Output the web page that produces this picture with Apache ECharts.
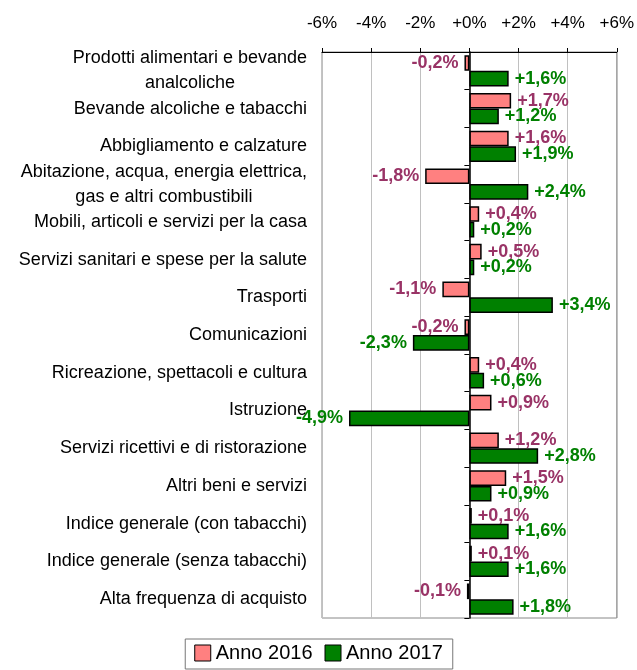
<!DOCTYPE html>
<html>
<head>
<meta charset="utf-8">
<script src="https://cdn.jsdelivr.net/npm/echarts@6/dist/echarts.min.js"></script>
<style>
  html, body { margin: 0; padding: 0; background: #fff; }
  #main { width: 637px; height: 670px; }
</style>
</head>
<body>
<div id="main"></div>
<script>
const categories = [
  'Prodotti alimentari e bevande\nanalcoliche',
  'Bevande alcoliche e tabacchi',
  'Abbigliamento e calzature',
  'Abitazione, acqua, energia elettrica,\ngas e altri combustibili',
  'Mobili, articoli e servizi per la casa',
  'Servizi sanitari e spese per la salute',
  'Trasporti',
  'Comunicazioni',
  'Ricreazione, spettacoli e cultura',
  'Istruzione',
  'Servizi ricettivi e di ristorazione',
  'Altri beni e servizi',
  'Indice generale (con tabacchi)',
  'Indice generale (senza tabacchi)',
  'Alta frequenza di acquisto'
];
const anno2016 = [-0.2, 1.7, 1.6, -1.8, 0.4, 0.5, -1.1, -0.2, 0.4, 0.9, 1.2, 1.5, 0.1, 0.1, -0.1];
const anno2017 = [1.6, 1.2, 1.9, 2.4, 0.2, 0.2, 3.4, -2.3, 0.6, -4.9, 2.8, 0.9, 1.6, 1.6, 1.8];

let myChart = echarts.init(document.getElementById('main'));

function pct(v) {
  let s = Math.abs(v).toFixed(1).replace('.', ',');
  return (v < 0 ? '-' : '+') + s + '%';
}

function withLabels(values) {
  return values.map(function (v) {
    return { value: v, label: { position: v < 0 ? 'left' : 'right' } };
  });
}

function catLabel(v) {
  // multi-line labels are centred line by line
  if (v.indexOf('\n') < 0) return v;
  return v.split('\n').map(function (l) { return '{c|' + l + '}'; }).join('\n');
}

let option = {
  animation: false,
  textStyle: { fontFamily: 'Liberation Sans, Arial, sans-serif' },
  grid: {
    left: 322,
    right: 19,
    top: 52,
    bottom: 52,
    show: true,
    borderColor: '#888',
    borderWidth: 1
  },
  legend: {
    top: 639,
    left: 'center',
    padding: [4, 10, 6, 9],
    borderColor: '#777',
    borderWidth: 1,
    itemWidth: 16,
    itemHeight: 16,
    itemGap: 12,
    icon: 'rect',
    textStyle: { fontSize: 20, color: '#000' },
    itemStyle: { borderColor: '#000', borderWidth: 1 },
    data: ['Anno 2016', 'Anno 2017']
  },
  xAxis: {
    type: 'value',
    position: 'top',
    min: -6,
    max: 6,
    interval: 2,
    axisLine: { show: true, onZero: false, lineStyle: { color: '#000', width: 1 } },
    axisTick: { show: true, length: 4, lineStyle: { color: '#000' } },
    axisLabel: {
      fontSize: 17,
      color: '#000',
      margin: 20,
      formatter: function (v) { return (v >= 0 ? '+' : '') + v + '%'; }
    },
    splitLine: { show: true, lineStyle: { color: '#c0c0c0', width: 1 } }
  },
  yAxis: [
    {
      type: 'category',
      inverse: true,
      data: categories,
      position: 'left',
      axisLine: { show: false, onZero: false },
      axisTick: { show: false },
      axisLabel: {
        fontSize: 18,
        color: '#000',
        margin: 15,
        lineHeight: 25,
        formatter: catLabel,
        rich: { c: { align: 'center', fontSize: 18, lineHeight: 25, color: '#000' } }
      }
    },
    {
      type: 'category',
      inverse: true,
      data: categories,
      position: 'left',
      axisLine: { show: true, onZero: true, lineStyle: { color: '#000', width: 1.5 } },
      axisTick: { show: true, length: 5, lineStyle: { color: '#000' } },
      axisLabel: { show: false },
      splitLine: { show: false }
    }
  ],
  series: [
    {
      name: 'Anno 2016',
      type: 'bar',
      yAxisIndex: 0,
      data: withLabels(anno2016),
      barGap: '0%',
      barCategoryGap: '17%',
      itemStyle: { color: '#ff8080', borderColor: '#000', borderWidth: 1.5 },
      label: {
        show: true,
        distance: 6,
        fontSize: 18,
        fontWeight: 'bold',
        color: '#993366',
        formatter: function (p) { return pct(p.value); }
      }
    },
    {
      name: 'Anno 2017',
      type: 'bar',
      yAxisIndex: 0,
      data: withLabels(anno2017),
      barGap: '0%',
      barCategoryGap: '17%',
      itemStyle: { color: '#008000', borderColor: '#000', borderWidth: 1.5 },
      label: {
        show: true,
        distance: 6,
        fontSize: 18,
        fontWeight: 'bold',
        color: '#008000',
        formatter: function (p) { return pct(p.value); }
      }
    }
  ]
};

myChart.setOption(option);
</script>
</body>
</html>
